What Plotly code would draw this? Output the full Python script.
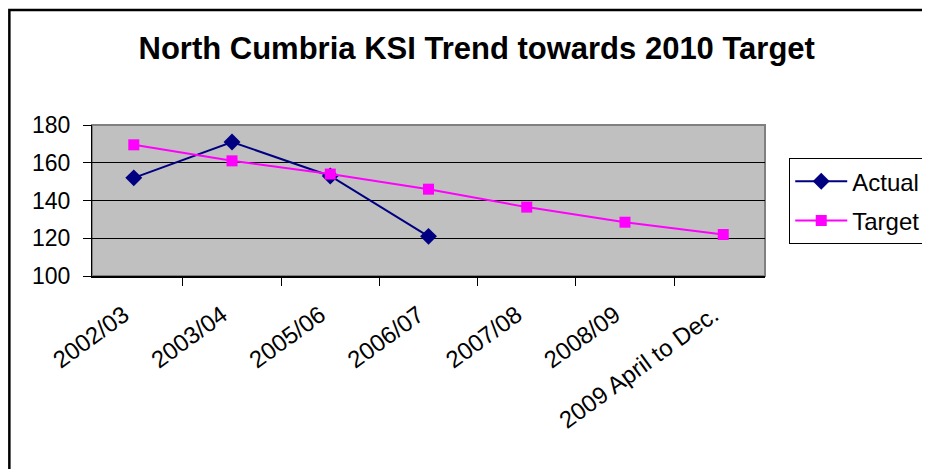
import plotly.graph_objects as go

categories = ['2002/03', '2003/04', '2005/06', '2006/07', '2007/08', '2008/09',
              '2009 April to Dec.']
actual = [152, 171, 153, 121, None, None, None]
target = [169.5, 161, 154, 146, 136.5, 128.5, 122]

FONT = 'Liberation Sans, Arial, sans-serif'

fig = go.Figure()

fig.add_trace(go.Scatter(
    x=categories,
    y=actual,
    mode='lines+markers',
    name='Actual',
    legendgroup='a',
    line=dict(color='#000080', width=2),
    marker=dict(symbol='diamond', size=13, color='#000080'),
    connectgaps=False
))

fig.add_trace(go.Scatter(
    x=categories,
    y=target,
    mode='lines+markers',
    name='Target',
    legendgroup='t',
    line=dict(color='#FF00FF', width=2),
    marker=dict(symbol='square', size=11, color='#FF00FF')
))

# outer chart frame (runs past the right and bottom edge of the picture)
fig.add_shape(type='rect', xref='paper', yref='paper',
              x0=-0.1228, x1=1.30, y0=-1.50, y1=1.7616,
              line=dict(color='black', width=2.5), layer='below')
# plot area border
fig.add_shape(type='rect', xref='paper', yref='paper',
              x0=0, x1=1, y0=0, y1=1,
              line=dict(color='#808080', width=2), layer='below')

fig.update_layout(
    width=930,
    height=469,
    margin=dict(l=84, r=170, t=117, b=201),
    paper_bgcolor='white',
    plot_bgcolor='#C0C0C0',
    font=dict(family=FONT, size=23, color='black'),
    title=dict(
        text='<b>North Cumbria KSI Trend towards 2010 Target</b>',
        font=dict(family=FONT, size=31, color='black'),
        x=0.504, xanchor='center', y=0.915, yanchor='middle'
    ),
    showlegend=True,
    legend=dict(
        x=1.036, y=0.78, xanchor='left', yanchor='top',
        bordercolor='black', borderwidth=1, bgcolor='white',
        font=dict(family=FONT, size=24, color='black'),
        itemwidth=52, tracegroupgap=5, traceorder='grouped'
    ),
    xaxis=dict(
        type='category',
        tickson='boundaries',
        ticks='outside', ticklen=8, tickcolor='black', tickwidth=1,
        tickangle=-36,
        ticklabelstandoff=14, ticklabelshift=-10,
        showline=True, linecolor='black', linewidth=1.5,
        showgrid=False,
        tickfont=dict(family=FONT, size=24, color='black')
    ),
    yaxis=dict(
        range=[100, 180], dtick=20,
        ticks='outside', ticklen=8, tickcolor='black', tickwidth=1,
        ticklabelstandoff=8,
        showline=True, linecolor='black', linewidth=1,
        showgrid=True, gridcolor='black', gridwidth=1,
        zeroline=False,
        tickfont=dict(family=FONT, size=23, color='black')
    )
)

fig.write_html("out.html")
